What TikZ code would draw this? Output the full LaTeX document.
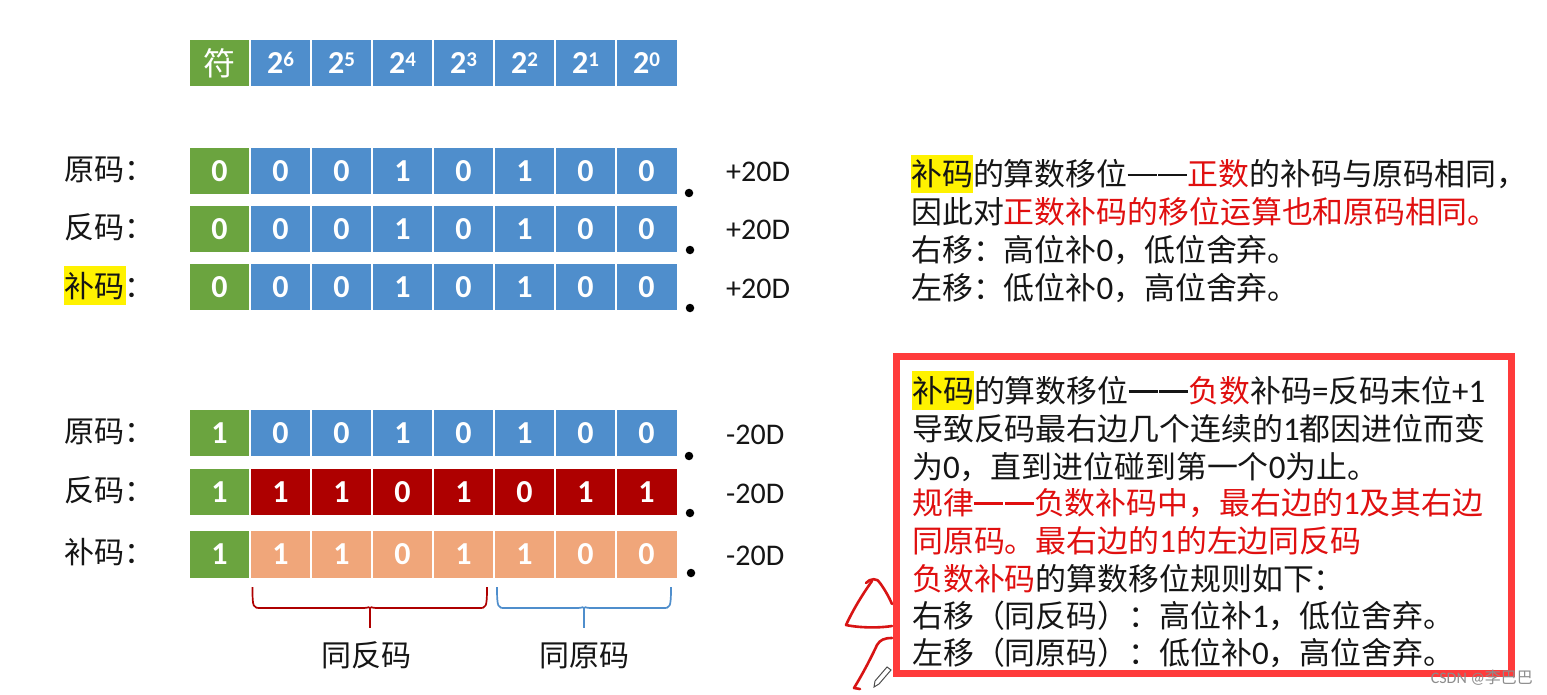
\documentclass[tikz,border=0pt]{standalone}
\usepackage{fontspec}
\setmainfont{Carlito}
\newfontfamily\cjk{Noto Sans CJK SC}
\definecolor{cgreen}{HTML}{6BA43F}
\definecolor{cblue}{HTML}{4F8ECC}
\definecolor{cdark}{HTML}{AE0000}
\definecolor{corange}{HTML}{F0A67A}
\definecolor{cbox}{HTML}{FF3B3B}
\definecolor{ctext}{HTML}{E00F0F}
\definecolor{cblack}{HTML}{151515}
\definecolor{csketch}{HTML}{D81414}
\newcommand{\fsz}[1]{\fontsize{#1}{#1}\selectfont}
\newcommand{\rd}[1]{\textcolor{ctext}{#1}}
\newcommand{\nm}[1]{{\fontsize{33}{33}\selectfont\rmfamily #1}}
\newcommand{\dsh}{\rule[9.5pt]{29pt}{2.4pt}\hspace{1.5pt}\rule[9.5pt]{29pt}{2.4pt}\hspace{0.5pt}}
\newcommand{\pw}[1]{2\raisebox{7pt}{\fsz{21}#1}}
\tikzset{
  cellbox/.style={draw=white,line width=1.2pt,minimum width=61.1pt,inner sep=0pt,font=\fsz{32}\bfseries,text=white,anchor=center},
  txtline/.style={anchor=base west,inner sep=0pt,font=\cjk\fsz{30.9},text=cblack},
  rowlab/.style={anchor=base west,inner sep=0pt,font=\cjk\fsz{30},text=cblack},
  vallab/.style={anchor=base west,inner sep=0pt,font=\fsz{30},text=cblack},
  sketch/.style={draw=csketch,line width=2.6pt,line cap=round,line join=round},
  tick/.style={circle,fill=black,inner sep=0pt,minimum width=6.5pt,minimum height=8.5pt},
  brc/.style={line width=1.7pt}
}
% #1 name, #2 centre y, #3 height, #4 fill, #5 list of bits, #6 sign
\newcommand{\bitrow}[6]{%
  \node[cellbox,fill=cgreen,minimum height=#3pt] (#1s) at (219.5,#2) {#6};
  \foreach \b [count=\i from 0] in {#5} {
    \node[cellbox,fill=#4,minimum height=#3pt] (#1\i) at ({280.6+61*\i},#2) {\b};
  }%
}
\begin{document}
\begin{tikzpicture}[x=1pt,y=-1pt]
\useasboundingbox (0,0) rectangle (1547,695);
\fill[white] (0,0) rectangle (1547,695);
% header
\bitrow{h}{63}{48}{cblue}{\pw{6},\pw{5},\pw{4},\pw{3},\pw{2},\pw{1},\pw{0}}{\cjk\mdseries 符}
% rows
\bitrow{a}{171}{48}{cblue}{0,0,1,0,1,0,0}{0}
\bitrow{b}{229}{48}{cblue}{0,0,1,0,1,0,0}{0}
\bitrow{c}{287}{48}{cblue}{0,0,1,0,1,0,0}{0}
\bitrow{d}{433}{48}{cblue}{0,0,1,0,1,0,0}{1}
\bitrow{e}{492}{48}{cdark}{1,1,0,1,0,1,1}{1}
\bitrow{f}{554.5}{48}{corange}{1,1,0,1,1,0,0}{1}
% highlights
\fill[yellow] (64,266) rectangle (126,305);
\fill[yellow] (911,155) rectangle (973,193);
\fill[yellow] (912,371) rectangle (974,410);
% row labels
\node[rowlab] (la) at (64,181) {原码：};
\node[rowlab] (lb) at (64,239) {反码：};
\node[rowlab] (lc) at (64,297) {补码：};
\node[rowlab] (ld) at (64,442) {原码：};
\node[rowlab] (le) at (64,501) {反码：};
\node[rowlab] (lf) at (64,563) {补码：};
% values
\node[vallab] (va) at (726,182) {+20D};
\node[vallab] (vb) at (726,240) {+20D};
\node[vallab] (vc) at (726,298) {+20D};
\node[vallab] (vd) at (726,444) {-20D};
\node[vallab] (ve) at (726,503) {-20D};
\node[vallab] (vf) at (726,565) {-20D};
% ticks
\node[tick] (ta) at (689,193) {};
\node[tick] (tb) at (690,250) {};
\node[tick] (tc) at (690,308) {};
\node[tick] (td) at (689,456) {};
\node[tick] (te) at (690,513) {};
\node[tick] (tf) at (691,573) {};
% braces
\coordinate (b1l) at (252.5,587);
\coordinate (b1m) at (370,608);
\coordinate (b1b) at (370,628);
\coordinate (b1r) at (487,587);
\draw[brc,draw=cdark] (b1l) .. controls (b1l|-b1m) and (253,608) .. (261,608) -- (364,608) .. controls (368,608) and (370,606) .. (b1m) .. controls (370,606) and (372,608) .. (376,608) -- (479,608) .. controls (486,608) and (b1r|-b1m) .. (b1r);
\draw[brc,draw=cdark] (b1m) -- (b1b);
\coordinate (b2l) at (497,587);
\coordinate (b2m) at (584,608);
\coordinate (b2b) at (584,628);
\coordinate (b2r) at (671,587);
\draw[brc,draw=cblue] (b2l) .. controls (b2l|-b2m) and (498,608) .. (505,608) -- (578,608) .. controls (582,608) and (584,606) .. (b2m) .. controls (584,606) and (586,608) .. (590,608) -- (663,608) .. controls (670,608) and (b2r|-b2m) .. (b2r);
\draw[brc,draw=cblue] (b2m) -- (b2b);
\node[rowlab] (s1) at (321,666) {同反码};
\node[rowlab] (s2) at (539,666) {同原码};
% top text
\node[txtline] (t1) at (911,186) {补码的算数移位\dsh\rd{正数}的补码与原码相同，};
\node[txtline] (t2) at (911,223) {因此对\rd{正数补码的移位运算也和原码相同。}};
\node[txtline] (t3) at (911,261) {右移：高位补\nm{0}，低位舍弃。};
\node[txtline] (t4) at (911,299) {左移：低位补\nm{0}，高位舍弃。};
% red box
\draw[draw=cbox,line width=7pt] (896,356.5) rectangle (1511,673.5);
\node[txtline] (r1) at (912,402) {补码的算数移位\dsh\rd{负数}补码\nm{=}反码末位\nm{+1}};
\node[txtline] (r2) at (912,440) {导致反码最右边几个连续的\nm{1}都因进位而变};
\node[txtline] (r3) at (912,478) {为\nm{0}，直到进位碰到第一个\nm{0}为止。};
\node[txtline] (r4) at (912,514) {\rd{规律\dsh 负数补码中，最右边的\nm{1}及其右边}};
\node[txtline] (r5) at (912,552) {\rd{同原码。最右边的\nm{1}的左边同反码}};
\node[txtline] (r6) at (912,590) {\rd{负数补码}的算数移位规则如下：};
\node[txtline] (r7) at (912,627) {右移（同反码）：高位补\nm{1}，低位舍弃。};
\node[txtline] (r8) at (912,664) {左移（同原码）：低位补\nm{0}，高位舍弃。};
% freehand sketch
\draw[sketch] (866,583) .. controls (870,578) and (878,578) .. (880,583) .. controls (885,590) and (889,597) .. (892,604);
\draw[sketch] (872,581) .. controls (862,595) and (853,610) .. (846,625) .. controls (860,628) and (880,628) .. (892,626);
\draw[sketch] (892,638) .. controls (884,638) and (880,640) .. (877,645) .. controls (870,660) and (862,675) .. (854,688) -- (860,689);
% pencil
\draw[line width=1pt,draw=black!70,fill=white] (887,667) -- (891,670) -- (879,684) -- (874,687) -- (875,681) -- cycle;
% watermark
\node[anchor=base east,inner sep=0pt,font=\fsz{16},text=black!45] (wm) at (1533,683) {CSDN @{\cjk 李巴巴}};
\end{tikzpicture}
\end{document}
